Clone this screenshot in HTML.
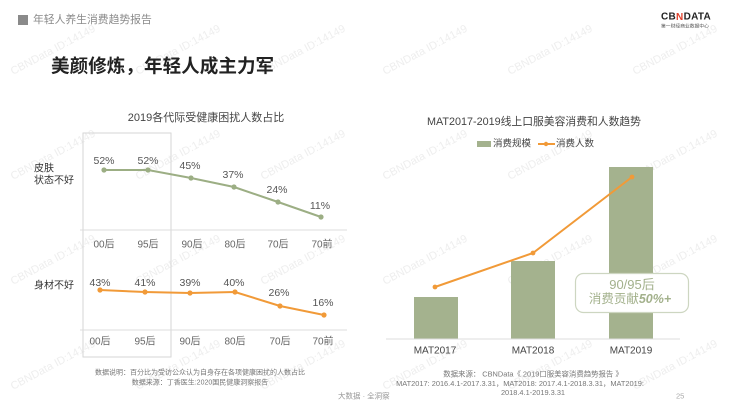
<!DOCTYPE html>
<html><head><meta charset="utf-8"><style>
html,body{margin:0;padding:0;background:#fff;}
svg{display:block;}
text{font-family:"Liberation Sans","Noto Sans CJK SC",sans-serif;}
</style></head><body>
<svg width="735" height="406" viewBox="0 0 735 406" xmlns="http://www.w3.org/2000/svg">
<rect width="735" height="406" fill="#ffffff"/>
<!-- watermarks -->
<g fill="#eeeeee" font-size="11">
<text transform="translate(13,75) rotate(-28)">CBNData ID:14149</text>
<text transform="translate(138,75) rotate(-28)">CBNData ID:14149</text>
<text transform="translate(263,75) rotate(-28)">CBNData ID:14149</text>
<text transform="translate(385,75) rotate(-28)">CBNData ID:14149</text>
<text transform="translate(510,75) rotate(-28)">CBNData ID:14149</text>
<text transform="translate(635,75) rotate(-28)">CBNData ID:14149</text>
<text transform="translate(13,180) rotate(-28)">CBNData ID:14149</text>
<text transform="translate(138,180) rotate(-28)">CBNData ID:14149</text>
<text transform="translate(263,180) rotate(-28)">CBNData ID:14149</text>
<text transform="translate(385,180) rotate(-28)">CBNData ID:14149</text>
<text transform="translate(510,180) rotate(-28)">CBNData ID:14149</text>
<text transform="translate(635,180) rotate(-28)">CBNData ID:14149</text>
<text transform="translate(13,285) rotate(-28)">CBNData ID:14149</text>
<text transform="translate(138,285) rotate(-28)">CBNData ID:14149</text>
<text transform="translate(263,285) rotate(-28)">CBNData ID:14149</text>
<text transform="translate(385,285) rotate(-28)">CBNData ID:14149</text>
<text transform="translate(510,285) rotate(-28)">CBNData ID:14149</text>
<text transform="translate(635,285) rotate(-28)">CBNData ID:14149</text>
<text transform="translate(13,390) rotate(-28)">CBNData ID:14149</text>
<text transform="translate(138,390) rotate(-28)">CBNData ID:14149</text>
<text transform="translate(263,390) rotate(-28)">CBNData ID:14149</text>
<text transform="translate(385,390) rotate(-28)">CBNData ID:14149</text>
<text transform="translate(510,390) rotate(-28)">CBNData ID:14149</text>
<text transform="translate(635,390) rotate(-28)">CBNData ID:14149</text>
</g>

<!-- header -->
<rect x="18" y="15" width="10" height="10" fill="#8a8a8a"/>
<text x="33" y="20" font-size="10.8" fill="#8a8a8a" dominant-baseline="central">年轻人养生消费趋势报告</text>
<text x="51" y="66" font-size="18.6" font-weight="bold" fill="#222" dominant-baseline="central">美颜修炼，年轻人成主力军</text>
<!-- logo -->
<text x="661" y="17" font-size="10" font-weight="bold" fill="#222" dominant-baseline="central" letter-spacing="0.3">CB<tspan fill="#e0402b">N</tspan>DATA</text>
<text x="661" y="27" font-size="4.8" fill="#555" dominant-baseline="central">第一财经商业数据中心</text>

<!-- LEFT CHART -->
<text x="206" y="118" font-size="11" fill="#444" text-anchor="middle" dominant-baseline="central">2019各代际受健康困扰人数占比</text>
<rect x="83" y="133" width="88" height="224" fill="none" stroke="#d6d6d6" stroke-width="1"/>
<line x1="80" y1="230" x2="347" y2="230" stroke="#dcdcdc" stroke-width="1"/>
<line x1="80" y1="330" x2="347" y2="330" stroke="#dcdcdc" stroke-width="1"/>

<text x="34" y="169" font-size="10" fill="#333" dominant-baseline="central">皮肤</text>
<text x="34" y="181" font-size="10" fill="#333" dominant-baseline="central">状态不好</text>
<text x="34" y="286" font-size="10" fill="#333" dominant-baseline="central">身材不好</text>

<polyline points="104,170 148,170 191,178 234,187 278,202 321,217" fill="none" stroke="#9cae84" stroke-width="2"/>
<g fill="#9cae84">
<circle cx="104" cy="170" r="2.6"/><circle cx="148" cy="170" r="2.6"/><circle cx="191" cy="178" r="2.6"/>
<circle cx="234" cy="187" r="2.6"/><circle cx="278" cy="202" r="2.6"/><circle cx="321" cy="217" r="2.6"/>
</g>
<g font-size="10.5" fill="#555" text-anchor="middle" dominant-baseline="central">
<text x="104" y="161">52%</text><text x="148" y="161">52%</text><text x="190" y="166">45%</text>
<text x="233" y="175">37%</text><text x="277" y="190">24%</text><text x="320" y="206">11%</text>
</g>
<g font-size="10" fill="#666" text-anchor="middle" dominant-baseline="central">
<text x="104" y="245">00后</text><text x="148" y="245">95后</text><text x="192" y="245">90后</text>
<text x="235" y="245">80后</text><text x="278" y="245">70后</text><text x="322" y="245">70前</text>
</g>

<polyline points="100,290 145,292 190,293 235,292 280,306 324,315" fill="none" stroke="#f19a38" stroke-width="2"/>
<g fill="#f19a38">
<circle cx="100" cy="290" r="2.6"/><circle cx="145" cy="292" r="2.6"/><circle cx="190" cy="293" r="2.6"/>
<circle cx="235" cy="292" r="2.6"/><circle cx="280" cy="306" r="2.6"/><circle cx="324" cy="315" r="2.6"/>
</g>
<g font-size="10.5" fill="#555" text-anchor="middle" dominant-baseline="central">
<text x="100" y="283">43%</text><text x="145" y="283">41%</text><text x="190" y="283">39%</text>
<text x="234" y="283">40%</text><text x="279" y="293">26%</text><text x="323" y="303">16%</text>
</g>
<g font-size="10" fill="#666" text-anchor="middle" dominant-baseline="central">
<text x="100" y="342">00后</text><text x="145" y="342">95后</text><text x="190" y="342">90后</text>
<text x="235" y="342">80后</text><text x="280" y="342">70后</text><text x="323" y="342">70前</text>
</g>
<g font-size="7" fill="#777" text-anchor="middle" dominant-baseline="central">
<text x="200" y="373">数据说明：百分比为受访公众认为自身存在各项健康困扰的人数占比</text>
<text x="200" y="383">数据来源：丁香医生:2020国民健康洞察报告</text>
</g>

<!-- RIGHT CHART -->
<text x="534" y="122" font-size="10.8" fill="#444" text-anchor="middle" dominant-baseline="central">MAT2017-2019线上口服美容消费和人数趋势</text>
<rect x="477" y="141" width="14" height="6" fill="#a4b28e"/>
<text x="493" y="144" font-size="9.5" fill="#444" dominant-baseline="central">消费规模</text>
<line x1="538" y1="144" x2="555" y2="144" stroke="#f19a38" stroke-width="2"/>
<circle cx="546" cy="144" r="2.2" fill="#f19a38"/>
<text x="556" y="144" font-size="9.5" fill="#444" dominant-baseline="central">消费人数</text>

<rect x="414" y="297" width="44" height="42" fill="#a4b28e"/>
<rect x="511" y="261" width="44" height="78" fill="#a4b28e"/>
<rect x="609" y="167" width="44" height="172" fill="#a4b28e"/>
<line x1="386" y1="339" x2="680" y2="339" stroke="#dcdcdc" stroke-width="1"/>
<polyline points="435,287 533,253 632,177" fill="none" stroke="#f19a38" stroke-width="2"/>
<circle cx="435" cy="287" r="2.4" fill="#f19a38"/>
<circle cx="533" cy="253" r="2.4" fill="#f19a38"/>
<circle cx="632" cy="177" r="2.4" fill="#f19a38"/>

<rect x="575.5" y="273.5" width="113" height="39" rx="8" ry="8" fill="#ffffff" stroke="#cdd6c1" stroke-width="1.2"/>
<text x="632" y="284.5" font-size="13" fill="#a3b18c" text-anchor="middle" dominant-baseline="central">90/95后</text>
<text x="630" y="299" font-size="12.5" fill="#a3b18c" text-anchor="middle" dominant-baseline="central">消费贡献<tspan font-weight="bold" font-style="italic">50%+</tspan></text>

<g font-size="10" fill="#444" text-anchor="middle" dominant-baseline="central">
<text x="435" y="351">MAT2017</text><text x="533" y="351">MAT2018</text><text x="631" y="351">MAT2019</text>
</g>
<g font-size="7.4" fill="#777" text-anchor="middle" dominant-baseline="central">
<text x="533" y="374">数据来源： CBNData《 2019口服美容消费趋势报告 》</text>
<text x="520" y="383.5">MAT2017: 2016.4.1-2017.3.31，MAT2018: 2017.4.1-2018.3.31，MAT2019:</text>
<text x="533" y="392.5">2018.4.1-2019.3.31</text>
</g>

<!-- footer -->
<text x="338" y="396" font-size="7.5" fill="#999" dominant-baseline="central">大数据 · 全洞察</text>
<text x="676" y="396" font-size="7.5" fill="#aaa" dominant-baseline="central">25</text>
</svg>
</body></html>
